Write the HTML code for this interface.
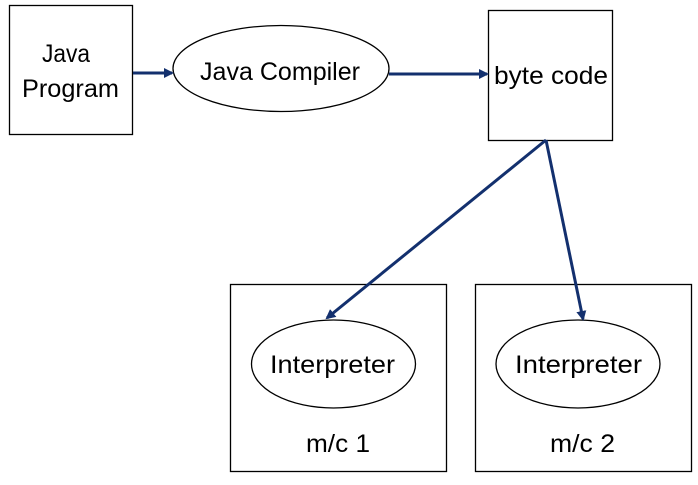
<!DOCTYPE html>
<html><head><style>body{margin:0;background:#fff}</style></head><body>
<svg width="698" height="480" xmlns="http://www.w3.org/2000/svg" font-family="Liberation Sans, sans-serif" font-size="25" fill="#000">
<defs><marker id="a" markerWidth="10" markerHeight="10" refX="8" refY="5" orient="auto" markerUnits="userSpaceOnUse"><path d="M0,0 L10,5 L0,10 z" fill="#13306e"/></marker></defs>
<g fill="none" stroke="#000" stroke-width="1.3">
<rect x="9.5" y="5.5" width="123" height="129"/>
<ellipse cx="281" cy="68.5" rx="108" ry="43"/>
<rect x="488.5" y="10.5" width="124" height="130"/>
<rect x="230.5" y="284.5" width="216" height="187"/>
<rect x="475.5" y="284.5" width="216" height="187"/>
<ellipse cx="333.5" cy="364" rx="82" ry="44"/>
<ellipse cx="578" cy="364" rx="82" ry="44"/>
</g>
<g stroke="#13306e" stroke-width="3" fill="none">
<line x1="133" y1="73" x2="172" y2="73" marker-end="url(#a)"/>
<line x1="389" y1="74" x2="487" y2="74" marker-end="url(#a)"/>
<line x1="546" y1="140" x2="327" y2="318" marker-end="url(#a)"/>
<line x1="546" y1="140" x2="583" y2="319" marker-end="url(#a)"/>
</g>
<g>
<text x="42" y="62" textLength="48" lengthAdjust="spacingAndGlyphs">Java</text>
<text x="22" y="97" textLength="97" lengthAdjust="spacingAndGlyphs">Program</text>
<text x="200" y="80" textLength="160" lengthAdjust="spacingAndGlyphs">Java Compiler</text>
<text x="494" y="84" textLength="114" lengthAdjust="spacingAndGlyphs">byte code</text>
<text x="270" y="373" textLength="125" lengthAdjust="spacingAndGlyphs">Interpreter</text>
<text x="515" y="373" textLength="127" lengthAdjust="spacingAndGlyphs">Interpreter</text>
<text x="306" y="452" textLength="64" lengthAdjust="spacingAndGlyphs">m/c 1</text>
<text x="550" y="452" textLength="65" lengthAdjust="spacingAndGlyphs">m/c 2</text>
</g>
</svg>
</body></html>
